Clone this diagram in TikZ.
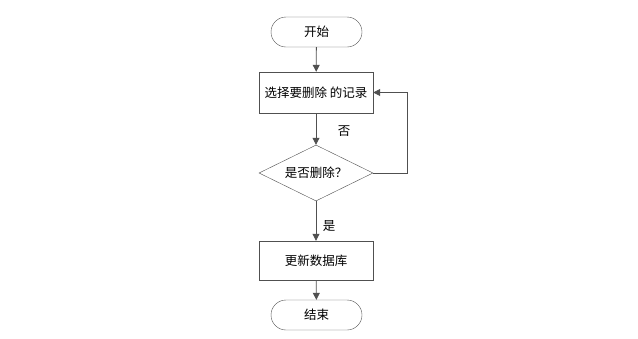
\documentclass[tikz,border=0pt]{standalone}
\usepackage{fontspec}
\newfontfamily\cjk{Noto Sans CJK SC}
\usetikzlibrary{shapes.geometric,shapes.misc,arrows.meta}
\definecolor{lc}{RGB}{80,80,80}
\begin{document}
\begin{tikzpicture}[x=1pt,y=-1pt,
  every node/.style={font=\cjk\fontsize{12.5}{14}\selectfont},
  term/.style={draw=lc, rounded rectangle, minimum width=91pt, minimum height=30pt, inner sep=0pt},
  proc/.style={draw=lc, rectangle, minimum width=114pt, minimum height=41pt, inner sep=0pt},
  dec/.style={draw=lc, diamond, shape aspect=2.036, minimum width=114pt, minimum height=56pt, inner sep=0pt},
  conn/.style={draw=lc, line width=0.8pt, -{Triangle[length=7pt,width=7pt]}},
  lbl/.style={inner sep=0pt}]
\useasboundingbox (0,0) rectangle (638,338);
\node[term] (start) at (316.5,32) {开始};
\node[proc] (sel) at (316,92.5) {选择要删除 的记录};
\node[dec] (d) at (316,173) {是否删除？};
\node[proc, minimum height=39pt] (upd) at (316,260.5) {更新数据库};
\node[term] (end) at (316.5,315) {结束};
\coordinate (loopa) at (407,173);
\coordinate (loopb) at (407,92.5);
\draw[conn] (start) -- (sel);
\draw[conn] (sel) -- (d.north);
\draw[conn] (d.south) -- (upd);
\draw[conn] (upd) -- (end);
\draw[conn] (d.east) -- (loopa) -- (loopb) -- (sel.east);
\node[lbl] (no) at (344,131) {否};
\node[lbl] (yes) at (329,226) {是};
\end{tikzpicture}
\end{document}
